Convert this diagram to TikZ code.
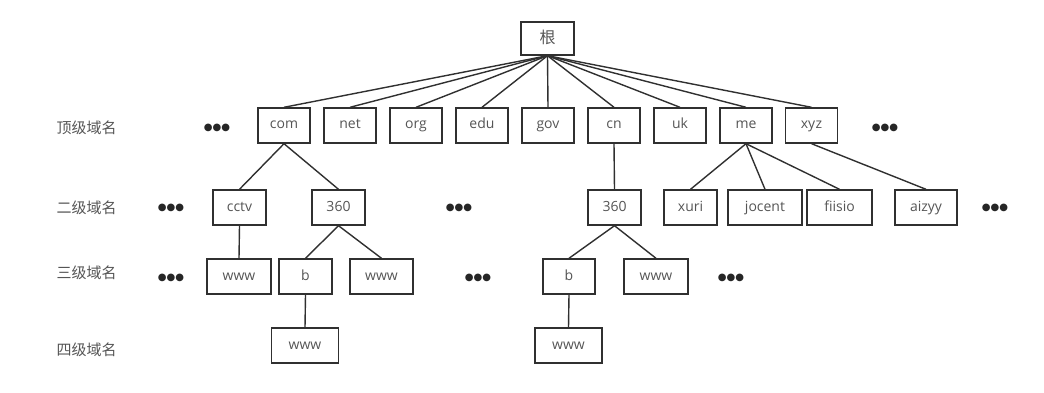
\documentclass[tikz,border=0pt]{standalone}
\usepackage{fontspec}
\setmainfont{Open Sans}
\newfontfamily\cjk{Noto Sans CJK SC}
\newfontfamily\dvs{DejaVu Sans}
\definecolor{txt}{HTML}{555555}
\definecolor{ln}{HTML}{303030}
\begin{document}
\begin{tikzpicture}[x=1pt,y=-1pt,
  box/.style={draw=ln, line width=1.4pt, minimum width=52pt, minimum height=35pt, inner sep=0pt, text=txt, font=\fontsize{14}{14}\selectfont, text height=10pt, text depth=3pt},
  lvl/.style={text=txt, font=\cjk\fontsize{15}{15}\selectfont, inner sep=0pt},
  dts/.style={text=black!85, font=\dvs\fontsize{10}{10}\selectfont, inner sep=0pt},
  link/.style={draw=ln, line width=1.4pt}]
\useasboundingbox (0,0) rectangle (1044,393);
% root
\node[box, minimum width=53pt, minimum height=33pt, font=\cjk\fontsize{16}{16}\selectfont, text height=12pt, text depth=2pt] (root) at (547.5,38.5) {根};
% level labels
\node[lvl] (l1) at (86.5,128) {顶级域名};
\node[lvl] (l2) at (86.5,208) {二级域名};
\node[lvl] (l3) at (86.5,273) {三级域名};
\node[lvl] (l4) at (86.5,350) {四级域名};
% top level
\node[box] (com) at (284,125.5) {com};
\node[box] (net) at (350,125.5) {net};
\node[box] (org) at (416,125.5) {org};
\node[box] (edu) at (482,125.5) {edu};
\node[box] (gov) at (548,125.5) {gov};
\node[box] (cn) at (614,125.5) {cn};
\node[box] (uk) at (680,125.5) {uk};
\node[box] (me) at (746,125.5) {me};
\node[box] (xyz) at (811.5,125.5) {xy\kern0.5pt z};
% second level
\node[box, minimum width=53pt] (cctv) at (239.5,207.5) {cctv};
\node[box, minimum width=53pt] (s360a) at (338.5,207.5) {360};
\node[box, minimum width=53pt] (s360b) at (614.5,207.5) {360};
\node[box, minimum width=53pt] (xuri) at (690.5,207.5) {xuri};
\node[box, minimum width=74pt] (jocent) at (765,207.5) {jocent};
\node[box, minimum width=65pt] (fiisio) at (839.5,207.5) {fiisio};
\node[box, minimum width=62pt] (aizyy) at (926,207.5) {aizyy};
% third level
\node[box, minimum width=64pt] (w3a) at (239,276.5) {www};
\node[box, minimum width=53pt] (b1) at (305.5,276.5) {b};
\node[box, minimum width=63pt] (w3b) at (381.5,276.5) {www};
\node[box, minimum width=52pt] (b2) at (569,276.5) {b};
\node[box, minimum width=64pt] (w3c) at (656,276.5) {www};
% fourth level
\node[box, minimum width=67pt] (w4a) at (305,345.5) {www};
\node[box, minimum width=67pt] (w4b) at (568.5,345.5) {www};
% dots
\node[dts] (d1a) at (217,128) {●●●};
\node[dts] (d1b) at (885,128) {●●●};
\node[dts] (d2a) at (171,208) {●●●};
\node[dts] (d2b) at (459,208) {●●●};
\node[dts] (d2c) at (995,208) {●●●};
\node[dts] (d3a) at (171,278) {●●●};
\node[dts] (d3b) at (478,278) {●●●};
\node[dts] (d3c) at (731,278) {●●●};
% connectors
\foreach \t in {com,net,org,edu,gov,cn,uk,me,xyz}
  \draw[link] (root.south) -- (\t.north);
\draw[link] (com.south) -- (cctv.north);
\draw[link] (com.south) -- (s360a.north);
\draw[link] (cn.south) -- (s360b.north);
\draw[link] (me.south) -- (xuri.north);
\draw[link] (me.south) -- (jocent.north);
\draw[link] (me.south) -- (fiisio.north);
\draw[link] (xyz.south) -- (aizyy.north);
\draw[link] (cctv.south) -- (w3a.north);
\draw[link] (s360a.south) -- (b1.north);
\draw[link] (s360a.south) -- (w3b.north);
\draw[link] (s360b.south) -- (b2.north);
\draw[link] (s360b.south) -- (w3c.north);
\draw[link] (b1.south) -- (w4a.north);
\draw[link] (b2.south) -- (w4b.north);
\end{tikzpicture}
\end{document}
